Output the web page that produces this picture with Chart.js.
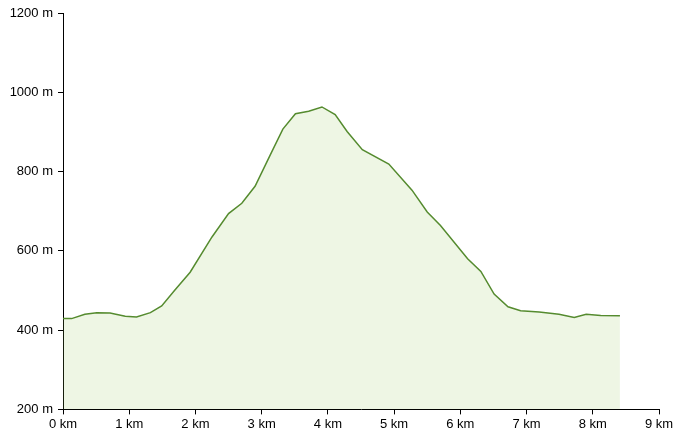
<!DOCTYPE html>
<html>
<head>
<meta charset="utf-8">
<script src="https://cdn.jsdelivr.net/npm/chart.js@4.4.1/dist/chart.umd.min.js"></script>
<style>
  html, body { margin: 0; padding: 0; background: #fff; }
  #wrap { width: 682px; height: 439px; }
</style>
</head>
<body>
<div id="wrap"><canvas id="elevationChart"></canvas></div>
<script>
// distance along the route (km) and elevation (m)
const distanceKm = [0.00, 0.13, 0.33, 0.51, 0.71, 0.94, 1.11, 1.32, 1.49, 1.69,
  1.92, 2.25, 2.50, 2.70, 2.90, 3.13, 3.32, 3.51, 3.71, 3.91,
  4.11, 4.29, 4.52, 4.92, 5.27, 5.50, 5.70, 6.11, 6.31, 6.51,
  6.72, 6.91, 7.19, 7.49, 7.72, 7.90, 8.12, 8.41];
const elevationM = [429, 429, 440, 444, 443, 435, 433, 444, 461, 501,
  546, 635, 694, 720, 763, 842, 907, 946, 952, 963,
  944, 901, 855, 819, 753, 698, 664, 580, 548, 491,
  459, 449, 446, 440, 432, 440, 437, 436];

const xTicks = [0, 1, 2, 3, 4, 5, 6, 7, 8, 9];
const yTicks = [200, 400, 600, 800, 1000, 1200];

document.addEventListener('DOMContentLoaded', function () {
  const ctx = document.getElementById('elevationChart');

  const points = distanceKm.map((d, i) => ({ x: d, y: elevationM[i] }));

  const axisFont = { family: 'Arial, "Liberation Sans", sans-serif', size: 13 };

  new Chart(ctx, {
    type: 'line',
    data: {
      datasets: [{
        label: 'Elevation',
        data: points,
        borderColor: '#558b2f',
        backgroundColor: 'rgba(139, 195, 74, 0.15)',
        borderWidth: 1.5,
        pointRadius: 0,
        tension: 0,
        fill: 'start'
      }]
    },
    options: {
      responsive: true,
      maintainAspectRatio: false,
      animation: false,
      layout: {
        padding: { top: 13, right: 23, bottom: 5, left: 0 }
      },
      plugins: {
        legend: { display: false },
        tooltip: { enabled: false }
      },
      scales: {
        x: {
          type: 'linear',
          min: xTicks[0],
          max: xTicks[xTicks.length - 1],
          afterBuildTicks: axis => { axis.ticks = xTicks.map(v => ({ value: v })); },
          grid: { drawOnChartArea: false, tickLength: 5, tickColor: '#000' },
          border: { color: '#000', width: 1 },
          ticks: {
            color: '#000',
            font: axisFont,
            padding: 2,
            maxRotation: 0,
            callback: v => v + ' km'
          }
        },
        y: {
          min: yTicks[0],
          max: yTicks[yTicks.length - 1],
          afterBuildTicks: axis => { axis.ticks = yTicks.map(v => ({ value: v })); },
          afterFit: axis => { axis.width = 63; },
          grid: { drawOnChartArea: false, tickLength: 5, tickColor: '#000' },
          border: { color: '#000', width: 1 },
          ticks: {
            color: '#000',
            font: axisFont,
            padding: 5,
            callback: v => v + ' m'
          }
        }
      }
    }
  });
});
</script>
</body>
</html>
